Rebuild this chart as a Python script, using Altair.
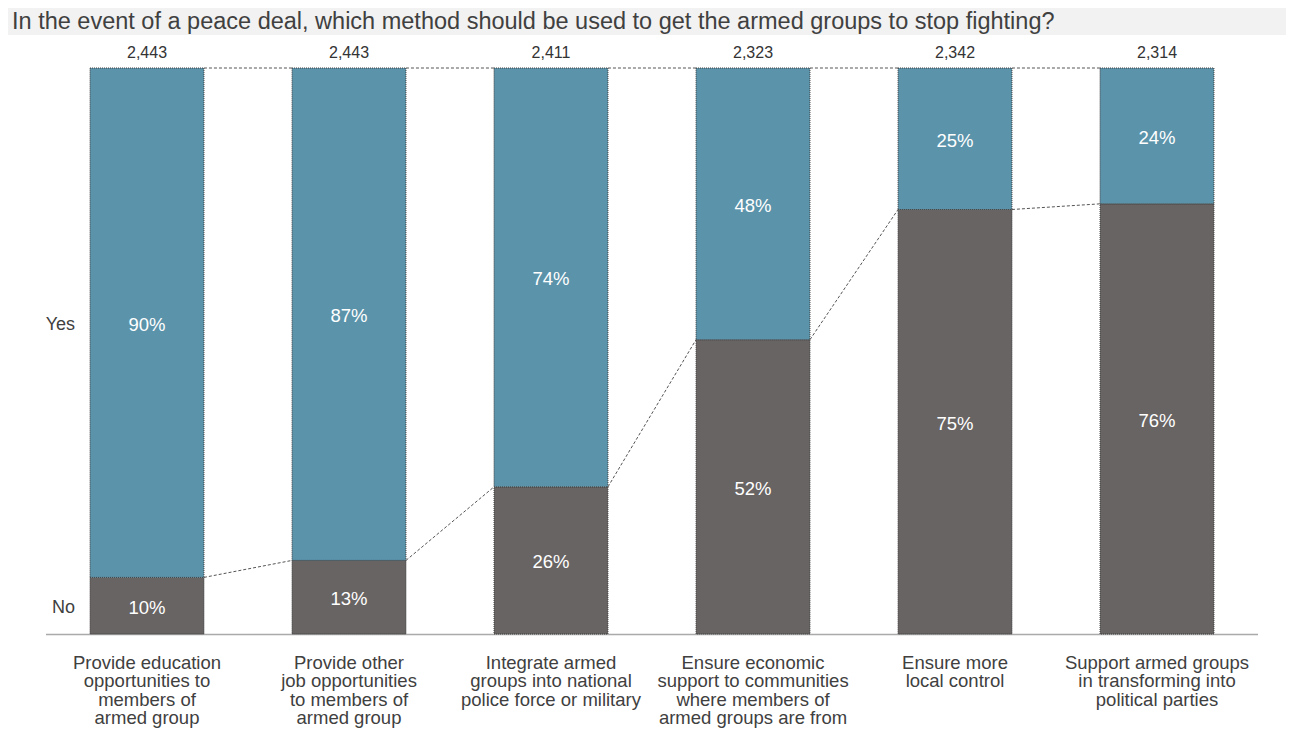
import altair as alt
import pandas as pd

title_text = "In the event of a peace deal, which method should be used to get the armed groups to stop fighting?"
categories = [
    "Provide education\nopportunities to\nmembers of\narmed group",
    "Provide other\njob opportunities\nto members of\narmed group",
    "Integrate armed\ngroups into national\npolice force or military",
    "Ensure economic\nsupport to communities\nwhere members of\narmed groups are from",
    "Ensure more\nlocal control",
    "Support armed groups\nin transforming into\npolitical parties",
]
no_pct = [10, 13, 26, 52, 75, 76]
yes_pct = [90, 87, 74, 48, 25, 24]
counts = [2443, 2443, 2411, 2323, 2342, 2314]

YES_COLOR = "#5b93aa"
NO_COLOR = "#686463"
FONT = "Liberation Sans"

rows = []
for i, c in enumerate(categories):
    rows.append({"cat": c, "resp": "No", "pct": no_pct[i], "start": 0, "end": no_pct[i],
                 "mid": no_pct[i] / 2, "label": f"{no_pct[i]}%", "first": i == 0})
    rows.append({"cat": c, "resp": "Yes", "pct": yes_pct[i], "start": no_pct[i],
                 "end": no_pct[i] + yes_pct[i], "mid": no_pct[i] + yes_pct[i] / 2,
                 "label": f"{yes_pct[i]}%", "first": i == 0})
df = pd.DataFrame(rows)

tot = pd.DataFrame({"cat": categories, "n": counts, "top": [a + b for a, b in zip(no_pct, yes_pct)]})

conn = []
for i in range(len(categories) - 1):
    conn.append({"cat": categories[i], "nxt": categories[i + 1], "ya": no_pct[i], "yb": no_pct[i + 1]})
    conn.append({"cat": categories[i], "nxt": categories[i + 1],
                 "ya": no_pct[i] + yes_pct[i], "yb": no_pct[i + 1] + yes_pct[i + 1]})
conn = pd.DataFrame(conn)

xscale = alt.Scale(domain=categories, paddingInner=0.436, paddingOuter=0.218)
yscale = alt.Scale(domain=[0, 100], nice=False)

xaxis = alt.Axis(
    title=None, labelAngle=0, ticks=False, labelExpr="split(datum.label, '\\n')",
    labelFont=FONT, labelFontSize=18.5, labelColor="#404040", labelLineHeight=18.5,
    labelPadding=19, labelLimit=400, domainColor="#555555", domainDash=[1, 1],
    domainWidth=1.5, grid=False,
)

X = alt.X("cat:N", scale=xscale, axis=xaxis, sort=categories)

bars = alt.Chart(df).mark_bar(stroke="#3a3a3a", strokeDash=[1, 1], strokeWidth=1).encode(
    x=X,
    y=alt.Y("start:Q", scale=yscale, axis=None),
    y2="end:Q",
    color=alt.Color("resp:N", scale=alt.Scale(domain=["Yes", "No"], range=[YES_COLOR, NO_COLOR]), legend=None),
)

pct_text = alt.Chart(df).mark_text(font=FONT, fontSize=18.5, color="white", baseline="middle", dy=2).encode(
    x=alt.X("cat:N", sort=categories),
    y=alt.Y("mid:Q"),
    text="label:N",
)

yn_text = alt.Chart(df).transform_filter("datum.first").mark_text(
    font=FONT, fontSize=18, color="#404040", align="right", baseline="middle", dx=-15, dy=2
).encode(
    x=alt.X("cat:N", sort=categories, bandPosition=0),
    y=alt.Y("mid:Q"),
    text="resp:N",
)

count_text = alt.Chart(tot).mark_text(font=FONT, fontSize=16, color="#333333", baseline="bottom", dy=-7).encode(
    x=alt.X("cat:N", sort=categories),
    y=alt.Y("top:Q"),
    text=alt.Text("n:Q", format=","),
)

connectors = alt.Chart(conn).mark_rule(color="#555555", strokeDash=[3, 2], strokeWidth=1).encode(
    x=alt.X("cat:N", sort=categories, bandPosition=1),
    x2=alt.X2("nxt", bandPosition=0),
    y=alt.Y("ya:Q"),
    y2="yb:Q",
)

title_bg = alt.Chart(alt.Data(values=[{"t": title_text}])).mark_rect(color="#f2f2f2").encode(
    x=alt.value(-38), x2=alt.value(1240), y=alt.value(-60), y2=alt.value(-33)
)

title_mark = alt.Chart(alt.Data(values=[{"t": title_text}])).mark_text(
    font=FONT, fontSize=23.5, color="#404040", align="left", baseline="middle"
).encode(
    x=alt.value(-34), y=alt.value(-46.5), text="t:N"
)

chart = alt.layer(title_bg, title_mark, bars, connectors, pct_text, yn_text, count_text).properties(
    width=1212, height=566,
    autosize=alt.AutoSizeParams(type="none"),
    padding={"left": 38, "top": 60, "right": 28, "bottom": 100},
).configure_view(stroke=None)

chart.save("out.html", embed_options={"renderer": "svg", "actions": False})
